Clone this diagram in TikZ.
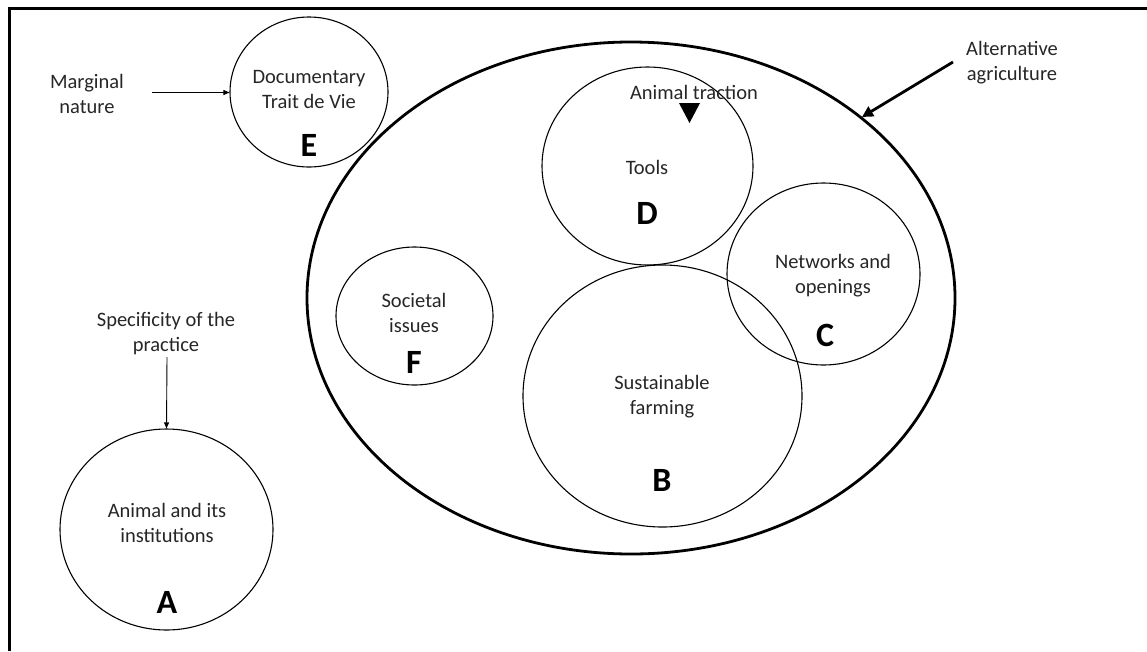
\documentclass[tikz,border=0pt]{standalone}
\usepackage{fontspec}
\setmainfont{Carlito}
\usetikzlibrary{shapes.geometric,arrows.meta}
\definecolor{txt}{RGB}{38,38,38}
\begin{document}
\begin{tikzpicture}[x=1pt,y=-1pt,
  circ/.style={draw=black,ellipse,line width=1.1pt,minimum width=#1,inner sep=0pt},
  lbl/.style={font=\fontsize{20.5}{25}\selectfont,text=txt,align=center,inner sep=0pt},
  letter/.style={font=\fontsize{34}{36}\selectfont\bfseries,text=black,inner sep=0pt},
  thin arrow/.style={line width=0.9pt,-{Triangle[length=6pt,width=5pt]}},
  thick arrow/.style={line width=2.8pt,-{Triangle[length=11pt,width=11pt]}}]
\useasboundingbox (0,0) rectangle (1147,651);
% frame
\draw[line width=3pt] (1147,8.5) -- (9.5,8.5) -- (9.5,651);
% big ellipse
\node[draw=black,ellipse,line width=2.8pt,minimum width=648pt,minimum height=512pt,inner sep=0pt] (alt) at (631,298) {};
% circles
\node[circ=158pt,minimum height=150pt] (E) at (309,92) {};
\node[circ=211pt,minimum height=198pt] (D) at (647.5,166) {};
\node[circ=193pt,minimum height=182pt] (C) at (823.5,274) {};
\node[circ=279pt,minimum height=262pt] (B) at (662.5,396) {};
\node[circ=157pt,minimum height=138pt] (F) at (414.5,316) {};
\node[circ=213pt,minimum height=201pt] (A) at (166.5,529.5) {};
% labels inside
\node[lbl] (Et) at (309,89) {Documentary\\Trait de Vie};
\node[letter] (El) at (309,145) {E};
\node[lbl] (Dt) at (647,167) {Tools};
\node[letter] (Dl) at (647,213) {D};
\node[lbl] (Ct) at (833,276) {Networks and\\openings};
\node[letter] (Cl) at (825,335) {C};
\node[lbl] (Bt) at (662,397) {Sustainable\\farming};
\node[letter] (Bl) at (662,480) {B};
\node[lbl] (Ft) at (414,313) {Societal\\issues};
\node[letter] (Fl) at (414,362) {F};
\node[lbl] (At) at (167,523) {Animal and its\\institutions};
\node[letter] (Al) at (167,602) {A};
% animal traction
\node[lbl] (trac) at (694,92) {Animal traction};
\fill[black] (679,103) -- (700,103) -- (689.5,123) -- cycle;
% outside labels and arrows
\node[lbl] (marg) at (87,94) {Marginal\\nature};
\coordinate (margstart) at (152,92.5);
\draw[thin arrow] (margstart) -- (E.west |- margstart);
\node[lbl] (spec) at (166,334) {Specificity of the\\practice};
\coordinate (specstart) at (167,357);
\draw[thin arrow] (specstart) -- (A.north);
\node[lbl] (altt) at (1012,63) {Alternative\\agriculture};
\coordinate (altstart) at (953,62);
\coordinate (altend) at (862,117);
\draw[thick arrow] (altstart) -- (altend);
\end{tikzpicture}
\end{document}
